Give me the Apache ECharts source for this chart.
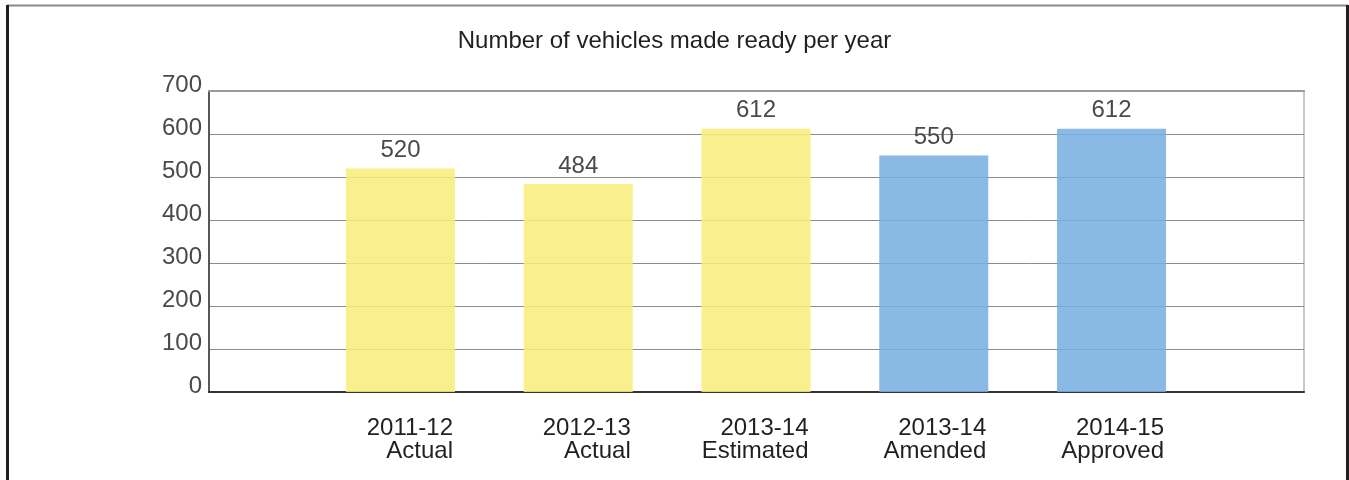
<!DOCTYPE html>
<html>
<head>
<meta charset="utf-8">
<script src="https://cdn.jsdelivr.net/npm/echarts@6/dist/echarts.min.js"></script>
<style>
  html, body { margin: 0; padding: 0; background: #ffffff; }
  #chart { width: 1349px; height: 480px; }
</style>
</head>
<body>
<div id="chart"></div>
<script>
// Vehicles made ready per fiscal year
const titleText = 'Number of vehicles made ready per year';
const years = ['2011-12', '2012-13', '2013-14', '2013-14', '2014-15'];
const stages = ['Actual', 'Actual', 'Estimated', 'Amended', 'Approved'];
const vehicles = [520, 484, 612, 550, 612];
const yTicks = { min: 0, max: 700, step: 100 };

const YELLOW = 'rgba(248,237,122,0.86)';
const BLUE = 'rgba(118,174,224,0.86)';
// first three years are actual/estimated, the last two are budget figures
const barColors = ['yellow', 'yellow', 'yellow', 'blue', 'blue'];

const categories = years.map((y, i) => y + '\n' + stages[i]);
const FONT = '"Liberation Sans", Arial, Helvetica, sans-serif';

const chart = echarts.init(document.getElementById('chart'), null, { renderer: 'canvas' });

chart.setOption({
  backgroundColor: '#ffffff',
  animation: false,
  title: {
    text: titleText,
    left: 'center',
    top: 29,
    padding: 0,
    textStyle: { fontFamily: FONT, fontSize: 24, fontWeight: 'normal', color: '#231f20' }
  },
  grid: [
    // framed plot area with gridlines
    { left: 209, right: 45, top: 91, bottom: 88, show: true, borderColor: '#c8c8c8', borderWidth: 2, backgroundColor: 'transparent' },
    // bar band area
    { left: 311.6, right: 148.6, top: 91, bottom: 88 }
  ],
  xAxis: [
    {
      gridIndex: 0, type: 'value', min: 0, max: 1, position: 'bottom',
      axisLine: { show: true, lineStyle: { color: '#333333', width: 2 } },
      axisTick: { show: false }, axisLabel: { show: false }, splitLine: { show: false }
    },
    {
      gridIndex: 0, type: 'value', min: 0, max: 1, position: 'top',
      axisLine: { show: true, lineStyle: { color: '#9c9c9c', width: 2 } },
      axisTick: { show: false }, axisLabel: { show: false }, splitLine: { show: false }
    },
    {
      gridIndex: 1, type: 'category', data: categories,
      axisLine: { show: false }, axisTick: { show: false },
      axisLabel: {
        margin: 25,
        interval: 0,
        formatter: (v) => v.split('\n').map(s => '{t|' + s + '}').join('\n'),
        rich: {
          t: { fontFamily: FONT, fontSize: 24, lineHeight: 23, color: '#231f20', width: 105, align: 'right' }
        }
      }
    }
  ],
  yAxis: [
    {
      gridIndex: 0, type: 'value', min: yTicks.min, max: yTicks.max, interval: yTicks.step,
      axisLine: { show: true, lineStyle: { color: '#333333', width: 1.5 } },
      axisTick: { show: false },
      axisLabel: {
        margin: 7, fontFamily: FONT, fontSize: 24, color: '#4a4a4a',
        verticalAlign: 'bottom', lineHeight: 11
      },
      splitLine: { show: true, lineStyle: { color: '#8c8c8c', width: 1 } }
    },
    {
      gridIndex: 1, type: 'value', min: yTicks.min, max: yTicks.max, interval: yTicks.step,
      show: false
    }
  ],
  series: [
    {
      type: 'bar',
      xAxisIndex: 2,
      yAxisIndex: 1,
      barWidth: 109,
      data: vehicles.map((v, i) => ({
        value: v,
        itemStyle: { color: barColors[i] === 'yellow' ? YELLOW : BLUE }
      })),
      label: {
        show: true, position: 'top', distance: 6,
        fontFamily: FONT, fontSize: 24, color: '#4a4a4a'
      }
    }
  ],
  graphic: [
    { type: 'line', shape: { x1: 7, y1: 5.5, x2: 1348, y2: 5.5 }, style: { stroke: '#8a8a8a', lineWidth: 2 }, z: 10 },
    { type: 'line', shape: { x1: 7.5, y1: 5, x2: 7.5, y2: 480 }, style: { stroke: '#231f20', lineWidth: 3 }, z: 10 },
    { type: 'line', shape: { x1: 1347.5, y1: 5, x2: 1347.5, y2: 480 }, style: { stroke: '#231f20', lineWidth: 3 }, z: 10 }
  ]
});
</script>
</body>
</html>
